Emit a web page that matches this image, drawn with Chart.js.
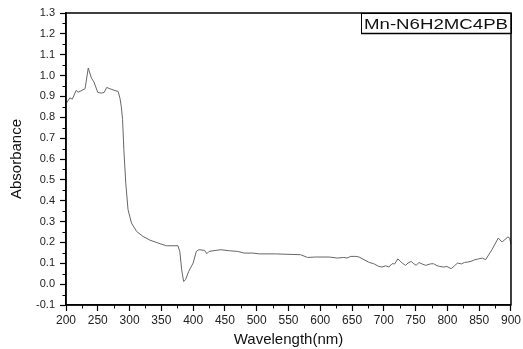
<!DOCTYPE html>
<html lang="en">
<head>
<meta charset="UTF-8">
<title>Mn-N6H2MC4PB absorbance</title>
<script src="https://cdn.jsdelivr.net/npm/chart.js"></script>
<style>
  html, body { margin: 0; padding: 0; background: #fff; }
  #wrap { width: 523px; height: 349px; }
</style>
</head>
<body>
<div id="wrap"><canvas id="spectrum" width="523" height="349"></canvas></div>
<script>
// UV-Vis spectrum, wavelength in nm
const wavelength = [
  200, 206, 210, 216, 219, 225, 230, 235, 240, 244, 250, 256, 260, 264, 269, 277, 282,
  285, 287, 289, 291, 294, 297.6, 303, 311, 321, 332, 345, 358, 376, 379, 382, 385, 388,
  393, 400, 405, 409, 418, 421.5, 425, 436, 444, 457, 470, 480, 494, 504, 530, 569, 580,
  593, 614, 627, 637, 642, 648, 656, 661, 669, 677, 684, 692, 697, 703, 708, 713, 717,
  722, 729, 734, 738, 743, 747, 751, 755, 760, 766, 773, 778, 784, 788, 794, 799, 806,
  811, 816, 822, 827, 832, 837, 843, 849, 855, 860, 870, 880, 886, 895, 898, 900
];
const absorbance = [
  0.865, 0.893, 0.887, 0.929, 0.920, 0.929, 0.937, 1.036, 0.988, 0.969, 0.919, 0.916, 0.919, 0.943, 0.937, 0.928, 0.924,
  0.890, 0.850, 0.789, 0.645, 0.485, 0.357, 0.293, 0.253, 0.229, 0.211, 0.197, 0.184, 0.184, 0.157, 0.069, 0.013, 0.021,
  0.061, 0.101, 0.157, 0.165, 0.162, 0.146, 0.157, 0.162, 0.165, 0.160, 0.157, 0.149, 0.149, 0.145, 0.145, 0.141, 0.128,
  0.130, 0.130, 0.125, 0.128, 0.125, 0.133, 0.133, 0.130, 0.117, 0.104, 0.098, 0.085, 0.082, 0.088, 0.082, 0.098, 0.097,
  0.121, 0.101, 0.090, 0.101, 0.109, 0.098, 0.090, 0.104, 0.097, 0.090, 0.097, 0.098, 0.088, 0.085, 0.082, 0.085, 0.074,
  0.088, 0.101, 0.097, 0.104, 0.106, 0.109, 0.117, 0.121, 0.125, 0.117, 0.165, 0.221, 0.202, 0.226, 0.221, 0.190
];
const sampleName = 'Mn-N6H2MC4PB';
const xTitle = 'Wavelength(nm)';
const yTitle = 'Absorbance';

const points = wavelength.map((w, i) => ({ x: w, y: absorbance[i] }));

// box around the plot, minor ticks and the sample label
const frame = {
  id: 'frame',
  afterDraw(chart) {
    const { ctx, chartArea: a, scales: { x, y } } = chart;
    ctx.save();
    ctx.strokeStyle = '#000';
    ctx.lineWidth = 1.5;
    ctx.strokeRect(a.left, a.top, a.right - a.left, a.bottom - a.top);

    ctx.lineWidth = 1;
    ctx.beginPath();
    for (let v = 225; v < 900; v += 50) {
      const px = Math.round(x.getPixelForValue(v)) + 0.5;
      ctx.moveTo(px, a.bottom);
      ctx.lineTo(px, a.bottom + 3.5);
    }
    for (let v = -0.05; v < 1.3; v += 0.1) {
      const py = Math.round(y.getPixelForValue(v)) + 0.5;
      ctx.moveTo(a.left, py);
      ctx.lineTo(a.left - 3.5, py);
    }
    ctx.stroke();

    const bx = 361, by = a.top, bw = a.right - bx, bh = 20;
    ctx.fillStyle = '#fff';
    ctx.fillRect(bx, by, bw, bh);
    ctx.lineWidth = 1;
    ctx.strokeRect(bx + 0.5, by + 0.5, bw, bh);
    ctx.lineWidth = 1.5;
    ctx.beginPath();
    ctx.moveTo(bx, by + bh + 0.5);
    ctx.lineTo(a.right, by + bh + 0.5);
    ctx.moveTo(a.right, by);
    ctx.lineTo(a.right, by + bh);
    ctx.stroke();

    ctx.font = '14px "Liberation Sans", Arial, sans-serif';
    ctx.fillStyle = '#111';
    ctx.textBaseline = 'alphabetic';
    const tw = ctx.measureText(sampleName).width;
    ctx.translate(bx + 3, by + 15.5);
    ctx.scale(144 / tw, 1);
    ctx.fillText(sampleName, 0, 0);
    ctx.restore();
  }
};

new Chart(document.getElementById('spectrum'), {
  type: 'line',
  data: {
    datasets: [{
      data: points,
      borderColor: '#666',
      borderWidth: 1,
      pointRadius: 0,
      tension: 0
    }]
  },
  options: {
    responsive: false,
    animation: false,
    layout: { padding: { top: 13, right: 10, left: 0, bottom: 0 } },
    plugins: { legend: { display: false }, tooltip: { enabled: false } },
    scales: {
      x: {
        type: 'linear',
        min: 200,
        max: 900,
        ticks: {
          stepSize: 50,
          color: '#222',
          padding: 2,
          maxRotation: 0,
          font: { family: '"Liberation Sans", Arial, sans-serif', size: 12 }
        },
        grid: { drawOnChartArea: false, tickLength: 6, tickColor: '#000', tickWidth: 1.2 },
        border: { color: '#000', width: 1.5 },
        title: {
          display: true,
          text: xTitle,
          color: '#111',
          padding: { top: 0, bottom: 0 },
          font: { family: '"Liberation Sans", Arial, sans-serif', size: 15 }
        },
        afterFit(s) { s.height = 44; }
      },
      y: {
        min: -0.1,
        max: 1.3,
        ticks: {
          stepSize: 0.1,
          color: '#222',
          padding: 5,
          callback: v => v.toFixed(1),
          font: { family: '"Liberation Sans", Arial, sans-serif', size: 11 }
        },
        grid: { drawOnChartArea: false, tickLength: 6, tickColor: '#000', tickWidth: 1.2 },
        border: { color: '#000', width: 1.5 },
        title: {
          display: true,
          text: yTitle,
          color: '#111',
          padding: { top: 8, bottom: 0 },
          font: { family: '"Liberation Sans", Arial, sans-serif', size: 15 }
        },
        afterFit(s) { s.width = 66; }
      }
    }
  },
  plugins: [frame]
});
</script>
</body>
</html>
